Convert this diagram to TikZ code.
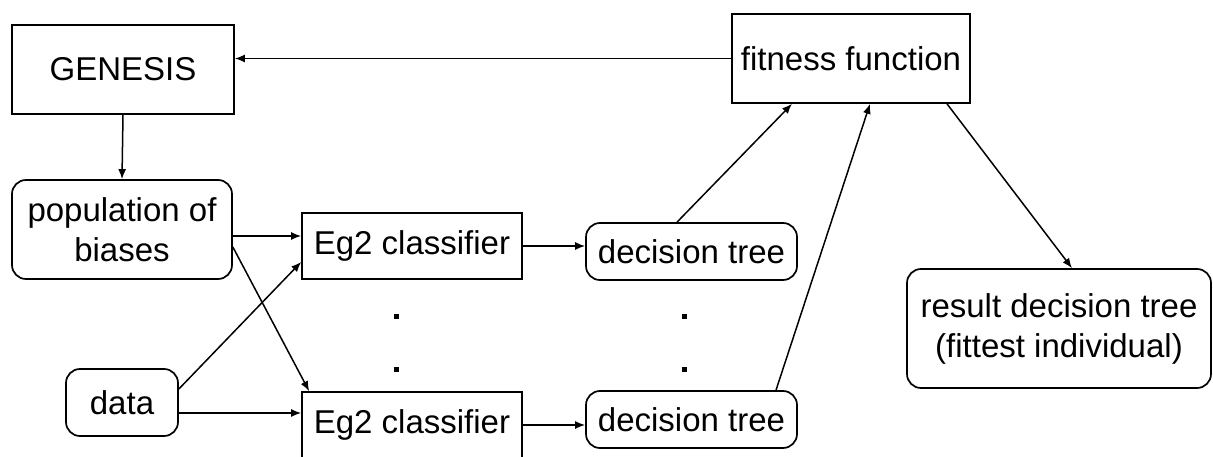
\documentclass[tikz,border=0pt]{standalone}
\usepackage{fontspec}
\setmainfont{Liberation Sans}
\usetikzlibrary{arrows.meta}
\begin{document}
\begin{tikzpicture}[x=1pt,y=-1pt,
  every node/.style={font=\fontsize{33}{40}\selectfont, inner sep=0pt, align=center, text=black},
  sqbox/.style={draw=black, line width=1.7pt, rectangle},
  rbox/.style={draw=black, line width=1.7pt, rectangle, rounded corners=14pt},
  arr/.style={draw=black, line width=1.5pt, -{Latex[length=10pt,width=8pt]}},
  dotmark/.style={fill=black}
]
\useasboundingbox (0,0) rectangle (1213,457);
\clip (0,0) rectangle (1213,457);
\fill[white] (0,0) rectangle (1213,457);

\node[sqbox, minimum width=222pt, minimum height=89pt] (gen) at (123,69.5) {GENESIS};
\node[sqbox, minimum width=238pt, minimum height=89pt] (fit) at (851,58.5) {fitness function};
\node[rbox, minimum width=220pt, minimum height=99pt] (pop) at (122,229.5) {population of\\biases};
\node[rbox, minimum width=112pt, minimum height=67pt] (data) at (122,402.5) {data};
\node[sqbox, minimum width=220pt, minimum height=66pt] (eg1) at (412,246) {Eg2 classifier};
\node[sqbox, minimum width=220pt, minimum height=66pt] (eg2) at (412,425) {Eg2 classifier};
\node[rbox, minimum width=211pt, minimum height=57pt] (dt1) at (691.5,251.5) {decision tree};
\node[rbox, minimum width=211pt, minimum height=57pt] (dt2) at (691.5,419.5) {decision tree};
\node[rbox, minimum width=304pt, minimum height=119pt] (res) at (1059,328.5) {result decision tree\\(fittest individual)};

\draw[arr] (fit.west) -- (fit.west -| gen.east);
\draw[arr] (gen.south) -- (pop.north);
\draw[arr] ([yshift=-6.5pt]pop.east) -- ([yshift=-6.5pt]pop.east -| eg1.west);
\draw[arr] ([yshift=-17.5pt]pop.east) -- ([xshift=8pt]eg2.north west);
\draw[arr] ([yshift=13.5pt]data.east) -- ([yshift=-16pt]eg1.west);
\draw[arr] ([yshift=-10.5pt]data.east) -- ([yshift=-10.5pt]data.east -| eg2.west);
\draw[arr] (eg1.east) -- (eg1.east -| dt1.west);
\draw[arr] (eg2.east) -- (eg2.east -| dt2.west);
\draw[arr] ([xshift=-14.5pt]dt1.north) -- ([xshift=-59pt]fit.south);
\draw[arr] ([xshift=84.5pt]dt2.north) -- ([xshift=19pt]fit.south);
\draw[arr] ([xshift=96pt]fit.south) -- ([xshift=13pt]res.north);

\fill[dotmark] (394,314) rectangle (398.5,318.5);
\fill[dotmark] (394,367) rectangle (398.5,371.5);
\fill[dotmark] (682,314) rectangle (686.5,318.5);
\fill[dotmark] (682,367) rectangle (686.5,371.5);
\end{tikzpicture}
\end{document}
